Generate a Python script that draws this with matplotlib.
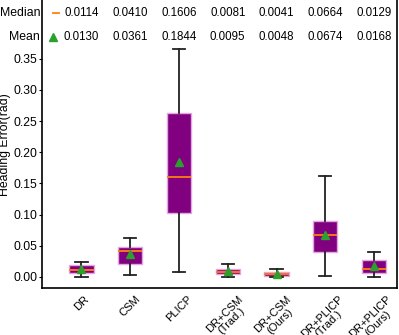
import numpy as np
import matplotlib
matplotlib.use('Agg')
from matplotlib import pyplot as plt

plt.rcParams['font.family'] = ['Liberation Sans', 'DejaVu Sans']

labels = ['DR', 'CSM', 'PLICP', 'DR+CSM\n(Trad.)', 'DR+CSM\n(Ours)',
          'DR+PLICP\n(Trad.)', 'DR+PLICP\n(Ours)']
medians = [0.0114, 0.0410, 0.1606, 0.0081, 0.0041, 0.0664, 0.0129]
means = [0.0130, 0.0361, 0.1844, 0.0095, 0.0048, 0.0674, 0.0168]
q1 = [0.0064, 0.0212, 0.1018, 0.0048, 0.0011, 0.0391, 0.0059]
q3 = [0.0188, 0.0482, 0.2624, 0.0119, 0.0070, 0.0890, 0.0263]
whislo = [0.0000, 0.0032, 0.0075, 0.0000, 0.0000, 0.0006, 0.0000]
whishi = [0.0236, 0.0626, 0.3650, 0.0204, 0.0128, 0.1617, 0.0397]

stats = []
for i in range(len(labels)):
    stats.append({'label': labels[i], 'med': medians[i], 'mean': means[i],
                  'q1': q1[i], 'q3': q3[i], 'whislo': whislo[i],
                  'whishi': whishi[i], 'fliers': []})

fig = plt.figure(figsize=(3.99, 3.35), dpi=100)
ax = fig.add_axes([0.105, 0.139, 0.89, 0.861])

ax.bxp(stats, showmeans=True, patch_artist=True, widths=0.5,
       boxprops=dict(facecolor='#800080', edgecolor='#e3a6e3', linewidth=1),
       medianprops=dict(color='#ff7f0e', linewidth=1.3),
       whiskerprops=dict(color='#222222', linewidth=1.3),
       capprops=dict(color='#222222', linewidth=1.3),
       meanprops=dict(marker='^', markerfacecolor='#2ca02c',
                      markeredgecolor='#2ca02c', markersize=6))

ax.set_xlim(0.19, 7.47)
ax.set_ylim(-0.0186, 0.4443)
ax.set_yticks(np.arange(0, 0.36, 0.05))
ax.set_yticklabels(['%.2f' % v for v in np.arange(0, 0.36, 0.05)])
ax.tick_params(axis='y', labelsize=8.7, length=2.5, pad=0.5)
ax.tick_params(axis='x', labelsize=8, length=0, pad=4)
plt.setp(ax.get_xticklabels(), rotation=45, linespacing=0.95)
ax.set_ylabel('Heading Error(rad)', fontsize=8.8)
ax.yaxis.set_label_coords(-0.087, 0.5)
ax.spines['top'].set_visible(False)
for s in ['left', 'right', 'bottom']:
    ax.spines[s].set_linewidth(1.2)

# summary rows at the top
trans = ax.get_xaxis_transform()
for i in range(len(labels)):
    ax.text(i + 1, 0.955, '%.4f' % medians[i], transform=trans,
            ha='center', va='center', fontsize=8.3)
    ax.text(i + 1, 0.872, '%.4f' % means[i], transform=trans,
            ha='center', va='center', fontsize=8.3)

ax.text(-0.005, 0.955, 'Median', transform=ax.transAxes, ha='right',
        va='center', fontsize=8.8)
ax.text(-0.005, 0.872, 'Mean', transform=ax.transAxes, ha='right',
        va='center', fontsize=8.8)
ax.plot([0.42, 0.55], [0.955, 0.955], transform=trans, color='#ff7f0e',
        linewidth=1.3, clip_on=False)
ax.plot([0.41], [0.872], transform=trans, marker='^', color='#2ca02c',
        markersize=6, clip_on=False)

fig.savefig('out.png', dpi=100)
